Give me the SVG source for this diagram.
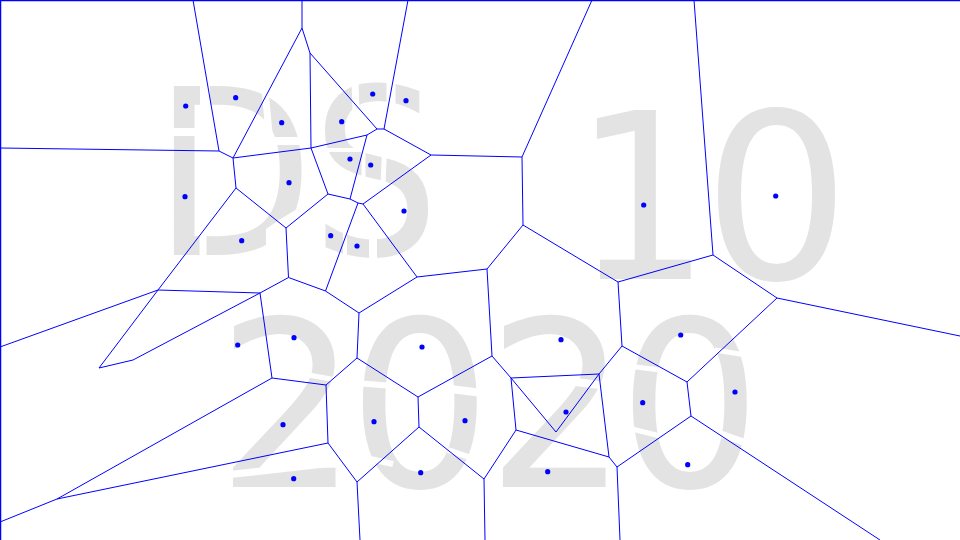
<svg xmlns="http://www.w3.org/2000/svg" width="960" height="540" viewBox="0 0 960 540">
<style>
.bg{font-family:"DejaVu Sans",sans-serif;font-size:232px;fill:#e3e3e3}
.gap{stroke:#ffffff;fill:none}
.edge{stroke:#0000ff;stroke-width:1;fill:none}
.site{fill:#0000ff}
</style>
<rect x="0" y="0" width="960" height="540" fill="#ffffff"/>
<g id="watermark">
<text class="bg" transform="translate(153.6,255) scale(0.8975,1)">D</text>
<text class="bg" transform="translate(311.7,255) scale(0.866,1)">S</text>
<text class="bg" transform="translate(573.3,279) scale(0.93,1)">1</text>
<text class="bg" transform="translate(702.7,279)">0</text>
<text class="bg" transform="translate(216.8,487) scale(0.954,1)">2</text>
<text class="bg" transform="translate(348.1,487) scale(0.974,1)">0</text>
<text class="bg" transform="translate(486.8,487) scale(0.954,1)">2</text>
<text class="bg" transform="translate(618.1,487) scale(0.974,1)">0</text>
</g>
<g id="cuts" class="gap">
<path d="M168,132 L207,132" stroke-width="8"/>
<path d="M205,80 L205,116" stroke-width="10"/>
<path d="M265,90 L269,133" stroke-width="7"/>
<path d="M266,141 L308,141" stroke-width="8"/>
<polygon points="266,259 266,229 279,220 307,203 307,259" fill="#ffffff" stroke="none"/>
<path d="M203,226 L203,260" stroke-width="7"/>
<path d="M391,80 L391,120" stroke-width="9"/>
<path d="M355,80 L356,112" stroke-width="7"/>
<path d="M325,150 L364,150" stroke-width="4"/>
<path d="M363.5,145 L363.5,180" stroke-width="4"/>
<path d="M384.5,150 L383,185" stroke-width="5"/>
<path d="M373,218 L373,262" stroke-width="8"/>
<path d="M345,215 L345,262" stroke-width="4"/>
<path d="M298,373 L336,380" stroke-width="5"/>
<path d="M226,475 L342,462" stroke-width="7"/>
<path d="M356,383 L393,386" stroke-width="6"/>
<path d="M450,389 L483,393" stroke-width="8"/>
<path d="M356,456 L393,464" stroke-width="6"/>
<path d="M448,450 L483,462" stroke-width="6"/>
<path d="M560,380 L607,386" stroke-width="8"/>
<path d="M628,366 L660,370" stroke-width="5"/>
<path d="M628,428 L660,436" stroke-width="5"/>
<path d="M715,350 L752,356" stroke-width="5"/>
<path d="M715,432 L752,445" stroke-width="7"/>
</g>
<g id="connectors" class="edge">
<path d="M0.5,540 L0.5,0.5 L960,0.5" stroke-width="1.5"/>
<path d="M193,0 L219,151 M0,148 L219,151 L233,158 M302,0 L302,28 L233,158 M302,28 L310,53 L311,148 M310,53 L377,129 L384,129 L408,0 M384,129 L431,155 L522,157 L592,0 M522,157 L523,225"/>
<path d="M233,158 L311,148 L367,135 L377,129 M367,135 L350,199 M311,148 L328,194 L350,199 L358,203 L363,204 L431,155 M363,204 L417,277 L487,269 L523,225 L618,282 M358,203 L325.5,291"/>
<path d="M233,158 L236,188 L158,290 L99,368 L133,360 L260,293 L158,290 L0,347 M236,188 L286,228 L328,194 M286,228 L288.5,277.5 L325.5,291 L359,313 L417,277 M288.5,277.5 L260,293"/>
<path d="M260,293 L272,378 L326,385 L357,358 L359,313 M357,358 L418,397 L492,356 L487,269 M418,397 L419,427 L357,482 L328,443 L326,385 M357,482 L360,540 M328,443 L57,499 L0,522 M272,378 L57,499 M419,427 L484,479 L485,540"/>
<path d="M492,356 L511,378 L599,374 L622,346 L618,282 L713,255 L694,0 M713,255 L777,298 L960,336 M777,298 L687,382 L622,346 M687,382 L691,416 L617,467 L620,540 M691,416 L880,540"/>
<path d="M511,378 L516,430 L484,479 M511,378 L556,432 L599,374 L609,457 L617,467 M516,430 L609,457"/>
</g>
<g id="sites" class="site">
<circle cx="185.7" cy="106" r="2.6"/>
<circle cx="235.7" cy="97.7" r="2.6"/>
<circle cx="281.7" cy="122.7" r="2.6"/>
<circle cx="341.7" cy="121.7" r="2.6"/>
<circle cx="372.7" cy="94" r="2.6"/>
<circle cx="406" cy="100.7" r="2.6"/>
<circle cx="185" cy="196.7" r="2.6"/>
<circle cx="289" cy="182.7" r="2.6"/>
<circle cx="350" cy="159" r="2.6"/>
<circle cx="370.7" cy="165" r="2.6"/>
<circle cx="404" cy="211" r="2.6"/>
<circle cx="241.7" cy="240.7" r="2.6"/>
<circle cx="330.7" cy="235.7" r="2.6"/>
<circle cx="357" cy="246" r="2.6"/>
<circle cx="643.7" cy="205" r="2.6"/>
<circle cx="775.7" cy="196" r="2.6"/>
<circle cx="237.7" cy="345" r="2.6"/>
<circle cx="294" cy="337.7" r="2.6"/>
<circle cx="422" cy="347" r="2.6"/>
<circle cx="283" cy="424.7" r="2.6"/>
<circle cx="374" cy="421.7" r="2.6"/>
<circle cx="465" cy="420.7" r="2.6"/>
<circle cx="293.7" cy="478.7" r="2.6"/>
<circle cx="420.7" cy="472.7" r="2.6"/>
<circle cx="561" cy="339.7" r="2.6"/>
<circle cx="680.7" cy="335" r="2.6"/>
<circle cx="735" cy="392" r="2.6"/>
<circle cx="642.7" cy="402.7" r="2.6"/>
<circle cx="566" cy="412" r="2.6"/>
<circle cx="687.7" cy="464.7" r="2.6"/>
<circle cx="547.7" cy="471.7" r="2.6"/>
</g>
</svg>
